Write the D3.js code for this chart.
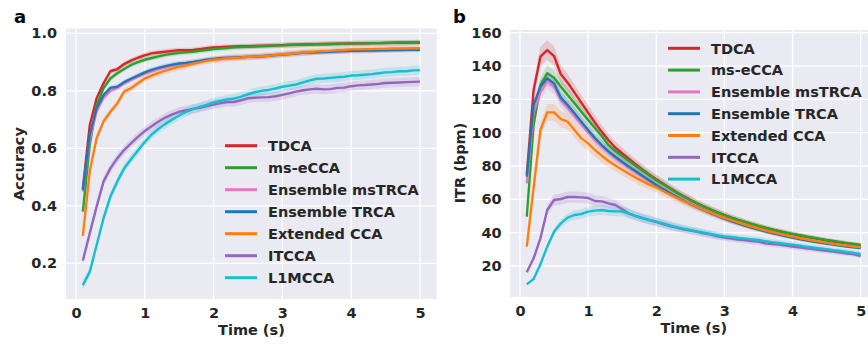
<!DOCTYPE html>
<html><head><meta charset="utf-8">
<script src="https://cdn.jsdelivr.net/npm/d3@7"></script>
<style>
html,body{margin:0;padding:0;background:#fff;}
svg{display:block;font-family:"DejaVu Sans",sans-serif;}
</style></head>
<body><svg id="chart" width="868" height="344"></svg>
<script>
// ---------- data ----------
const time = [0.1,0.2,0.3,0.4,0.5,0.6,0.7,0.8,0.9,1.0,1.1,1.2,1.3,1.4,1.5,1.6,1.7,1.8,1.9,2.0,2.1,2.2,2.3,2.4,2.5,2.6,2.7,2.8,2.9,3.0,3.1,3.2,3.3,3.4,3.5,3.6,3.7,3.8,3.9,4.0,4.1,4.2,4.3,4.4,4.5,4.6,4.7,4.8,4.9,5.0];
const methods = ["TDCA","ms-eCCA","Ensemble msTRCA","Ensemble TRCA","Extended CCA","ITCCA","L1MCCA"];
const colors = ["#d62728","#2ca02c","#e377c2","#1f77b4","#ff7f0e","#9467bd","#17becf"];

// Accuracy
const accTDCA = [0.46,0.68,0.774,0.826,0.868,0.875,0.893,0.905,0.915,0.923,0.93,0.933,0.936,0.939,0.941,0.941,0.942,0.945,0.948,0.951,0.952,0.953,0.954,0.955,0.955,0.956,0.957,0.957,0.958,0.959,0.96,0.96,0.961,0.962,0.962,0.963,0.963,0.964,0.964,0.965,0.965,0.965,0.966,0.966,0.966,0.967,0.967,0.967,0.968,0.968];
const accMsECCA = [0.38,0.611,0.75,0.809,0.843,0.861,0.876,0.89,0.9,0.908,0.914,0.92,0.925,0.929,0.932,0.934,0.936,0.939,0.942,0.945,0.947,0.949,0.951,0.952,0.953,0.954,0.955,0.956,0.957,0.958,0.959,0.96,0.96,0.961,0.962,0.962,0.963,0.963,0.964,0.964,0.965,0.965,0.966,0.966,0.967,0.967,0.968,0.968,0.969,0.969];
const accEnsMsTRCA = [0.449,0.63,0.728,0.775,0.8,0.81,0.826,0.838,0.849,0.86,0.868,0.876,0.882,0.887,0.891,0.895,0.898,0.902,0.906,0.909,0.911,0.913,0.915,0.916,0.918,0.919,0.92,0.922,0.924,0.926,0.928,0.93,0.932,0.933,0.934,0.935,0.936,0.937,0.938,0.939,0.94,0.94,0.941,0.941,0.942,0.942,0.943,0.943,0.944,0.944];
const accEnsTRCA = [0.455,0.646,0.739,0.785,0.81,0.814,0.83,0.842,0.853,0.864,0.873,0.88,0.886,0.891,0.895,0.897,0.9,0.904,0.908,0.911,0.913,0.915,0.916,0.917,0.918,0.919,0.92,0.922,0.924,0.926,0.928,0.93,0.932,0.933,0.934,0.935,0.936,0.937,0.938,0.939,0.939,0.94,0.94,0.941,0.941,0.942,0.942,0.943,0.943,0.943];
const accExtCCA = [0.295,0.519,0.635,0.693,0.727,0.756,0.797,0.809,0.826,0.843,0.853,0.862,0.87,0.877,0.883,0.888,0.894,0.899,0.904,0.908,0.91,0.913,0.915,0.916,0.918,0.919,0.92,0.922,0.925,0.927,0.929,0.931,0.933,0.935,0.937,0.938,0.939,0.941,0.942,0.944,0.944,0.945,0.945,0.946,0.946,0.947,0.947,0.947,0.948,0.948];
const accITCCA = [0.21,0.304,0.397,0.484,0.53,0.565,0.594,0.617,0.64,0.66,0.677,0.693,0.707,0.718,0.727,0.732,0.737,0.741,0.747,0.752,0.757,0.761,0.761,0.767,0.774,0.776,0.777,0.778,0.781,0.786,0.791,0.797,0.802,0.805,0.807,0.805,0.806,0.81,0.811,0.816,0.819,0.82,0.822,0.824,0.827,0.828,0.829,0.83,0.831,0.832];
const accL1MCCA = [0.124,0.17,0.263,0.356,0.432,0.484,0.53,0.562,0.592,0.622,0.648,0.668,0.685,0.7,0.714,0.727,0.736,0.744,0.751,0.76,0.765,0.77,0.773,0.78,0.788,0.795,0.8,0.803,0.808,0.814,0.818,0.822,0.829,0.836,0.842,0.843,0.845,0.847,0.849,0.853,0.854,0.856,0.858,0.861,0.864,0.865,0.868,0.868,0.871,0.872];

// ITR (bpm)
const itrTDCA = [75,125.6,145.6,149.6,146,135,130,124,118,112,106,100.5,95.5,91,87.6,84.2,81,77.8,74.8,72,69.4,66.8,64.3,61.9,59.7,57.6,55.7,53.9,52.2,50.6,49.1,47.7,46.4,45.1,43.9,42.8,41.8,40.8,39.9,39.1,38.3,37.5,36.8,36.1,35.4,34.8,34.2,33.6,33.0,32.5];
const itrMsECCA = [49.6,104.6,128.6,135.6,133,127.6,122.6,117.6,112.6,107.6,102.8,98,92.5,89,86,83,80,77.2,74.3,71.5,69,66.5,64,61.7,59.6,57.5,55.6,53.8,52.2,50.6,49.1,47.7,46.4,45.2,44.1,43,42,41,40.1,39.3,38.5,37.7,37,36.3,35.6,35,34.3,33.7,33.2,32.7];
const itrEnsMsTRCA = [69.6,112,124,131,127.5,119.5,115,110,105,100.2,95.6,91.6,88,84.8,81.8,79,76.2,73.5,70.9,68.3,65.9,63.6,61.3,59.2,57.1,55.2,53.4,51.6,50,48.4,47,45.6,44.3,43.1,42,40.9,39.9,38.9,38,37.2,36.4,35.6,34.9,34.2,33.6,33,32.4,31.9,31.4,31];
const itrEnsTRCA = [73.6,116.6,127.6,132.6,129.5,121,116.6,111.6,106.6,101.6,96.8,92.6,88.8,85.6,82.6,79.6,76.8,74,71.3,68.6,66.2,63.8,61.5,59.3,57.2,55.3,53.5,51.7,50,48.4,47,45.6,44.3,43.1,41.9,40.8,39.8,38.8,37.9,37,36.2,35.4,34.7,34,33.4,32.8,32.2,31.7,31.2,30.8];
const itrExtCCA = [31.6,67,101.6,112.2,112.2,108.2,106.6,101.6,96.6,93.6,89.6,86.2,83,80.3,77.8,75.4,73,70.8,68.8,67.2,65,62.9,60.9,59,57.2,55.4,53.6,52,50.4,48.9,47.5,46.2,44.9,43.7,42.5,41.4,40.4,39.4,38.5,37.6,36.8,36,35.3,34.6,33.9,33.3,32.7,32.2,31.7,31.3];
const itrITCCA = [16.2,24.6,36.6,53.6,59.6,60.2,61.4,61.4,61.2,60.8,59,58.8,57.6,56.6,54,51.5,50,48.6,47.5,46.4,45.2,44,43,42,41.3,40.5,39.6,38.8,37.8,37,36.5,35.9,35.5,35,34.6,33.6,33.2,32.8,32.3,31.7,31.2,30.6,30.1,29.6,29.1,28.6,28,27.5,27,26];
const itrL1MCCA = [9,12.2,21,31.6,40.6,45.6,49,50.6,51.2,52.6,53.2,53.6,53,52.8,52.8,51.5,50,48.8,47.6,46.6,45.5,44.4,43.3,42.4,41.6,40.8,40,39.2,38.4,37.8,37.3,36.8,36.4,36,35.6,34.9,34.3,33.8,33.3,32.8,32.2,31.6,31.1,30.6,30.1,29.5,29,28.5,27.9,27.2];

// confidence half-widths (accuracy absolute, ITR relative)
const ciAcc = [0.009,0.009,0.009,0.009,0.012,0.016,0.016];
const ciItr = [0.04,0.035,0.035,0.03,0.045,0.055,0.055];

const xTicks = [0,1,2,3,4,5];
const accTicks = [0.2,0.4,0.6,0.8,1.0];
const itrTicks = [20,40,60,80,100,120,140,160];

const accSeries = [accTDCA,accMsECCA,accEnsMsTRCA,accEnsTRCA,accExtCCA,accITCCA,accL1MCCA];
const itrSeries = [itrTDCA,itrMsECCA,itrEnsMsTRCA,itrEnsTRCA,itrExtCCA,itrITCCA,itrL1MCCA];

// ---------- drawing ----------
const svg = d3.select("#chart");
const FONT = "DejaVu Sans, sans-serif";
const TXT = "#262626";

function panel(opts){
  const g = svg.append("g");
  const x = d3.scaleLinear().domain([-0.145,5.245]).range([opts.left, opts.right]);
  const y = d3.scaleLinear().domain(opts.ydom).range([opts.bottom, opts.top]);
  const clipId = "clip"+opts.id;
  svg.append("clipPath").attr("id",clipId).append("rect")
    .attr("x",opts.left).attr("y",opts.top).attr("width",opts.right-opts.left).attr("height",opts.bottom-opts.top);
  g.append("rect").attr("x",opts.left).attr("y",opts.top)
    .attr("width",opts.right-opts.left).attr("height",opts.bottom-opts.top).attr("fill","#eaeaf2");
  // grid
  const grid = g.append("g").attr("clip-path",`url(#${clipId})`);
  grid.selectAll(".gx").data(xTicks).join("line")
    .attr("x1",d=>x(d)).attr("x2",d=>x(d)).attr("y1",opts.top).attr("y2",opts.bottom)
    .attr("stroke","#fff").attr("stroke-width",1.3);
  grid.selectAll(".gy").data(opts.yticks).join("line")
    .attr("y1",d=>y(d)).attr("y2",d=>y(d)).attr("x1",opts.left).attr("x2",opts.right)
    .attr("stroke","#fff").attr("stroke-width",1.3);
  // bands + lines
  const plot = g.append("g").attr("clip-path",`url(#${clipId})`);
  opts.series.forEach((s,i)=>{
    const area = d3.area().x((d,j)=>x(time[j]))
      .y0((d,j)=>y(opts.lo(d,i))).y1((d,j)=>y(opts.hi(d,i)));
    plot.append("path").datum(s).attr("d",area).attr("fill",colors[i]).attr("fill-opacity",0.18);
  });
  opts.series.forEach((s,i)=>{
    const line = d3.line().x((d,j)=>x(time[j])).y(d=>y(d));
    plot.append("path").datum(s).attr("d",line).attr("fill","none")
      .attr("stroke",colors[i]).attr("stroke-width",2.4).attr("stroke-linejoin","round");
  });
  // axes
  const xa = g.append("g").attr("transform",`translate(0,${opts.bottom})`)
    .call(d3.axisBottom(x).tickValues(xTicks).tickSize(0).tickPadding(8.5).tickFormat(d3.format("d")));
  const ya = g.append("g").attr("transform",`translate(${opts.left},0)`)
    .call(d3.axisLeft(y).tickValues(opts.yticks).tickSize(0).tickPadding(opts.ypad).tickFormat(opts.yfmt));
  [xa,ya].forEach(a=>{
    a.select(".domain").remove();
    a.selectAll("text").attr("font-family",FONT).attr("font-weight","bold")
      .attr("font-size","14.5px").attr("fill",TXT);
  });
  // axis labels
  g.append("text").attr("x",(opts.left+opts.right)/2).attr("y",opts.xlabY)
    .attr("text-anchor","middle").attr("font-family",FONT).attr("font-weight","bold")
    .attr("font-size","14.5px").attr("fill",TXT).text("Time (s)");
  g.append("text").attr("transform",`translate(${opts.ylabX},${opts.ylabY}) rotate(-90)`)
    .attr("text-anchor","middle").attr("font-family",FONT).attr("font-weight","bold")
    .attr("font-size","14.5px").attr("fill",TXT).text(opts.ylabel);
  // panel letter
  g.append("text").attr("x",opts.letterX).attr("y",23).attr("font-family",FONT)
    .attr("font-weight","bold").attr("font-size","18px").attr("fill","#000").text(opts.letter);
  // legend
  const lg = g.append("g");
  methods.forEach((m,i)=>{
    const yy = opts.legY + i*opts.legStep;
    lg.append("line").attr("x1",opts.legX).attr("x2",opts.legX+32).attr("y1",yy).attr("y2",yy)
      .attr("stroke",colors[i]).attr("stroke-width",3);
    lg.append("text").attr("x",opts.legX+43).attr("y",yy).attr("dy","0.36em")
      .attr("font-family",FONT).attr("font-weight","bold").attr("font-size","14.5px")
      .attr("fill",TXT).text(m);
  });
}

panel({
  id:"a", left:66, right:436.8, top:28.5, bottom:299,
  ydom:[0.2-(299-263.3)/287.5, 1.0+(33.3-28.5)/287.5],
  yticks:accTicks, yfmt:d3.format(".1f"), ypad:9,
  series:accSeries,
  lo:(d,i)=>d-ciAcc[i], hi:(d,i)=>d+ciAcc[i],
  xlabY:335, ylabX:24, ylabY:164, ylabel:"Accuracy",
  letter:"a", letterX:14,
  legX:225, legY:145.7, legStep:22
});
panel({
  id:"b", left:510.1, right:877.4, top:30, bottom:297,
  ydom:[20-(297-266)/1.6664, 160+(32.7-30)/1.6664],
  yticks:itrTicks, yfmt:d3.format("d"), ypad:8.5,
  series:itrSeries,
  lo:(d,i)=>d*(1-ciItr[i]), hi:(d,i)=>d*(1+ciItr[i]),
  xlabY:333, ylabX:465, ylabY:163, ylabel:"ITR (bpm)",
  letter:"b", letterX:453,
  legX:668, legY:48.3, legStep:21.8
});
</script></body></html>
